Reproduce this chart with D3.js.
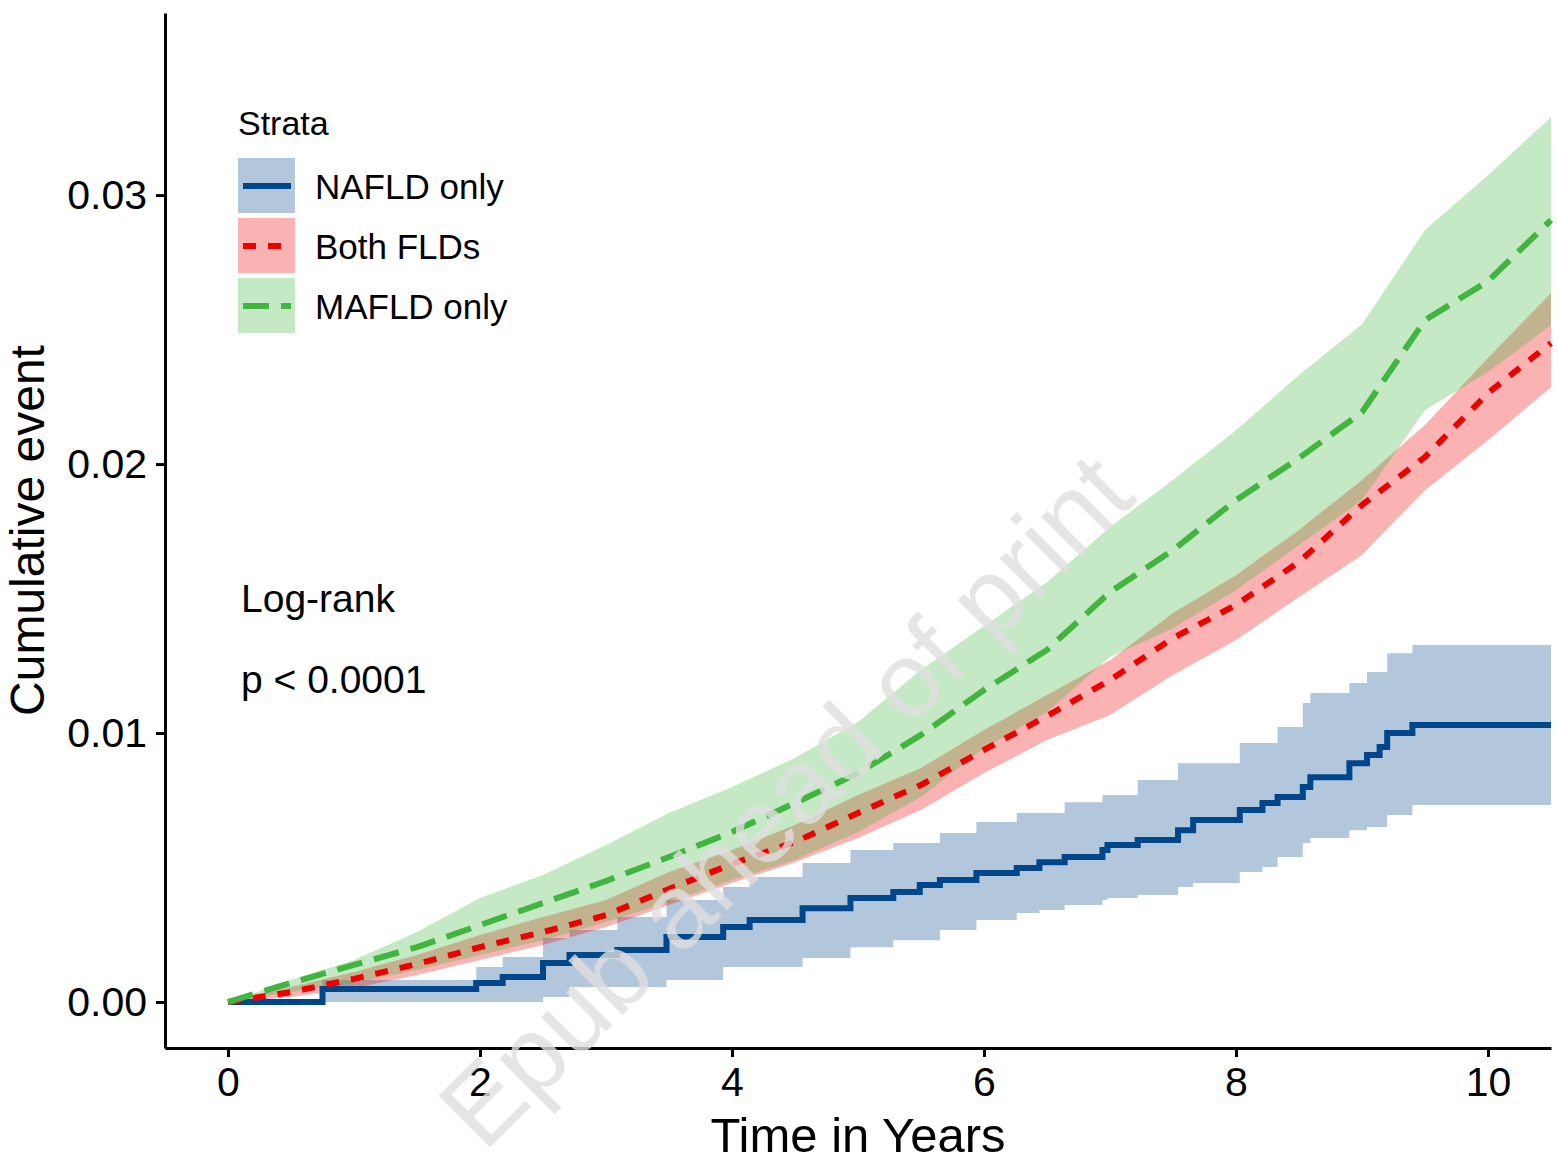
<!DOCTYPE html>
<html>
<head>
<meta charset="utf-8">
<script src="https://cdnjs.cloudflare.com/ajax/libs/d3/7.8.5/d3.min.js"></script>
<style>
  body { margin: 0; background: #fff; }
  text { font-family: "Liberation Sans", Arial, sans-serif; }
</style>
</head>
<body>
<svg id="chart" width="1558" height="1169"></svg>
<script>
// NAFLD only: step curve, event times (years) with estimate and CI
var nafldTime = [0, 0.75, 1.97, 2.18, 2.50, 2.71, 3.09, 3.48, 3.93, 4.14, 4.56, 4.94, 5.28, 5.49, 5.65, 5.94,
  6.26, 6.44, 6.64, 6.94, 6.98, 7.22, 7.54, 7.66, 8.03, 8.21, 8.33, 8.53, 8.59, 8.90, 9.04, 9.14, 9.20, 9.40, 10.5];
var nafldEst = [0, 0.00048, 0.00071, 0.00093, 0.00145, 0.00175, 0.00193, 0.00242, 0.00279, 0.00305, 0.00349, 0.00387,
  0.00409, 0.00435, 0.00454, 0.00480, 0.00498, 0.00520, 0.00539, 0.00565, 0.00584, 0.00602, 0.00639, 0.00677,
  0.00714, 0.00740, 0.00762, 0.00799, 0.00836, 0.00888, 0.00918, 0.00948, 0.01000, 0.01030, 0.01030];
var nafldUpper = [0, 0.00082, 0.00130, 0.00167, 0.00238, 0.00268, 0.00316, 0.00379, 0.00428, 0.00465, 0.00517, 0.00565,
  0.00591, 0.00591, 0.00628, 0.00669, 0.00703, 0.00703, 0.00743, 0.00770, 0.00770, 0.00825, 0.00888, 0.00888,
  0.00963, 0.00963, 0.01022, 0.01112, 0.01149, 0.01186, 0.01227, 0.01227, 0.01297, 0.01327, 0.01327];
var nafldLower = [0, 0, 0, 0, 0.00019, 0.00056, 0.00056, 0.00082, 0.00130, 0.00130, 0.00164, 0.00204,
  0.00230, 0.00230, 0.00268, 0.00305, 0.00331, 0.00342, 0.00361, 0.00379, 0.00387, 0.00398, 0.00428, 0.00442,
  0.00483, 0.00502, 0.00539, 0.00591, 0.00610, 0.00639, 0.00651, 0.00651, 0.00695, 0.00732, 0.00732];

// Both FLDs and MAFLD only, read every half year
var readTime = [0, 0.5, 1, 1.5, 2, 2.5, 3, 3.5, 4, 4.5, 5, 5.5, 6, 6.5, 7, 7.5, 8, 8.5, 9, 9.5, 10, 10.5];
var bothEst = [0, 0.00037, 0.00086, 0.00141, 0.00204, 0.00260, 0.00323, 0.00420, 0.00513, 0.00595, 0.00703,
  0.00807, 0.00937, 0.01063, 0.01197, 0.01353, 0.01476, 0.01636, 0.01848, 0.02026, 0.02264, 0.02450];
var bothUpper = [0, 0.00056, 0.00112, 0.00175, 0.00249, 0.00316, 0.00379, 0.00483, 0.00565, 0.00658, 0.00770,
  0.00870, 0.01011, 0.01141, 0.01271, 0.01446, 0.01587, 0.01755, 0.01941, 0.02145, 0.02394, 0.02636];
var bothLower = [0, 0.00019, 0.00052, 0.00100, 0.00156, 0.00212, 0.00279, 0.00361, 0.00442, 0.00520, 0.00610,
  0.00714, 0.00851, 0.00974, 0.01067, 0.01216, 0.01346, 0.01506, 0.01662, 0.01903, 0.02089, 0.02286];
var mafldEst = [0, 0.00071, 0.00138, 0.00204, 0.00286, 0.00368, 0.00450, 0.00539, 0.00632, 0.00740, 0.00851,
  0.00993, 0.01160, 0.01309, 0.01524, 0.01680, 0.01866, 0.02022, 0.02193, 0.02535, 0.02680, 0.02907];
var mafldUpper = [0, 0.00082, 0.00156, 0.00260, 0.00387, 0.00472, 0.00584, 0.00703, 0.00799, 0.00907, 0.01041,
  0.01234, 0.01398, 0.01561, 0.01766, 0.01941, 0.02126, 0.02331, 0.02520, 0.02870, 0.03074, 0.03290];
var mafldLower = [0, 0.00037, 0.00071, 0.00119, 0.00175, 0.00230, 0.00297, 0.00372, 0.00454, 0.00528, 0.00632,
  0.00762, 0.00944, 0.01078, 0.01283, 0.01390, 0.01532, 0.01699, 0.01866, 0.02201, 0.02342, 0.02517];

var strataNames = ["NAFLD only", "Both FLDs", "MAFLD only"];
var strataColors = ["#00468B", "#ED0000", "#42B540"];
var strataDash = ["none", "13,12", "26,12"];
var xTicks = [0, 2, 4, 6, 8, 10];
var yTicks = [0, 0.01, 0.02, 0.03];

var svg = d3.select("#chart"),
  width = +svg.attr("width"),
  height = +svg.attr("height");

var padLeft = 165, padRight = 1551, padTop = 13, padBottom = 1048;

var x = d3.scaleLinear().domain([-0.5, 10.5]).range([padLeft, padRight]);
var y = d3.scaleLinear().domain([-0.00171, 0.03677]).range([padBottom, padTop]);

function rows(t, est, lo, hi) {
  return t.map((d, i) => ({t: d, est: est[i], lo: lo[i], hi: hi[i]}));
}

var series = [
  {rows: rows(nafldTime, nafldEst, nafldLower, nafldUpper), curve: d3.curveStepAfter},
  {rows: rows(readTime, bothEst, bothLower, bothUpper), curve: d3.curveLinear},
  {rows: rows(readTime, mafldEst, mafldLower, mafldUpper), curve: d3.curveLinear}
];

// ribbons first
series.forEach((s, i) => {
  var area = d3.area().curve(s.curve)
    .x(d => x(d.t)).y0(d => y(d.lo)).y1(d => y(d.hi));
  svg.append("path").datum(s.rows)
    .attr("d", area)
    .attr("fill", strataColors[i])
    .attr("fill-opacity", 0.3);
});

series.forEach((s, i) => {
  var line = d3.line().curve(s.curve).x(d => x(d.t)).y(d => y(d.est));
  svg.append("path").datum(s.rows)
    .attr("d", line)
    .attr("fill", "none")
    .attr("stroke", strataColors[i])
    .attr("stroke-width", 6)
    .attr("stroke-dasharray", strataDash[i]);
});

// axes
var yAxis = svg.append("g").attr("transform", "translate(" + padLeft + ",0)")
  .call(d3.axisLeft(y).tickValues(yTicks).tickFormat(d3.format(".2f")).tickSize(9).tickSizeOuter(0).tickPadding(9));
var xAxis = svg.append("g").attr("transform", "translate(0," + padBottom + ")")
  .call(d3.axisBottom(x).tickValues(xTicks).tickFormat(d3.format("d")).tickSize(9).tickSizeOuter(0).tickPadding(10));

[yAxis, xAxis].forEach(a => {
  a.select(".domain").attr("stroke", "#000").attr("stroke-width", 3);
  a.selectAll(".tick line").attr("stroke", "#000").attr("stroke-width", 3);
  a.selectAll(".tick text").attr("fill", "#000").style("font-size", "41px")
    .style("font-family", "'Liberation Sans', Arial, sans-serif");
});

svg.append("text")
  .attr("transform", "translate(44," + (padTop + padBottom) / 2 + ")rotate(-90)")
  .attr("text-anchor", "middle")
  .style("font-size", "48px")
  .text("Cumulative event");

svg.append("text")
  .attr("x", (padLeft + padRight) / 2).attr("y", 1152)
  .attr("text-anchor", "middle")
  .style("font-size", "49px")
  .text("Time in Years");

// legend
var legend = svg.append("g");
legend.append("text").attr("x", 238).attr("y", 135).style("font-size", "34px").text("Strata");
strataNames.forEach((name, i) => {
  var yy = 158 + i * 60;
  legend.append("rect").attr("x", 238).attr("y", yy).attr("width", 57).attr("height", 55)
    .attr("fill", strataColors[i]).attr("fill-opacity", 0.3);
  legend.append("line").attr("x1", 243).attr("x2", 291).attr("y1", yy + 28).attr("y2", yy + 28)
    .attr("stroke", strataColors[i]).attr("stroke-width", 6)
    .attr("stroke-dasharray", strataDash[i]);
  legend.append("text").attr("x", 315).attr("y", yy + 28).attr("dy", "0.36em")
    .style("font-size", "35px").text(name);
});

svg.append("text").attr("x", 241).attr("y", 612).style("font-size", "39px").text("Log-rank");
svg.append("text").attr("x", 241).attr("y", 693).style("font-size", "39px").text("p < 0.0001");

// watermark
svg.append("text")
  .attr("transform", "translate(785,800)rotate(-45)")
  .attr("text-anchor", "middle")
  .attr("dy", "0.35em")
  .style("font-size", "106px")
  .attr("fill", "#dedede")
  .attr("fill-opacity", 0.8)
  .text("Epub ahead of print");
</script>
</body>
</html>
